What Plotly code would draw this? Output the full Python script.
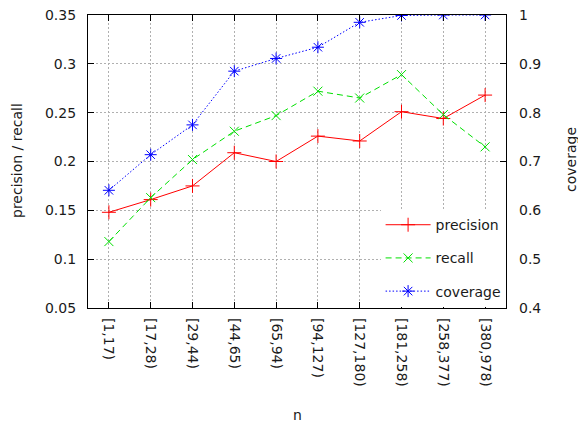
import plotly.graph_objects as go

categories = ["[1,17)", "[17,28)", "[29,44)", "[44,65)", "[65,94)",
              "[94,127)", "[127,180)", "[181,258)", "[258,377)", "[380,978)"]
precision = [0.148, 0.161, 0.175, 0.209, 0.200, 0.226, 0.221, 0.251, 0.244, 0.268]
recall = [0.118, 0.163, 0.202, 0.231, 0.247, 0.272, 0.265, 0.289, 0.248, 0.215]
coverage = [0.641, 0.714, 0.775, 0.885, 0.911, 0.934, 0.985, 0.999, 1.0, 1.0]

left_ticks = [0.05, 0.1, 0.15, 0.2, 0.25, 0.3, 0.35]
left_tick_labels = ["0.05", "0.1", "0.15", "0.2", "0.25", "0.3", "0.35"]
right_ticks = [0.4, 0.5, 0.6, 0.7, 0.8, 0.9, 1.0]
right_tick_labels = ["0.4", "0.5", "0.6", "0.7", "0.8", "0.9", "1"]

FONT = "DejaVu Sans"
TXT = "#1a1a1a"
FS = 14

fig = go.Figure()
fig.add_trace(go.Scatter(
    x=categories, y=precision, name="precision", legendgroup="p",
    mode="lines+markers",
    line=dict(color="#ff0000", width=1),
    marker=dict(symbol="cross-thin", size=10, line=dict(color="#ff0000", width=1)),
))
fig.add_trace(go.Scatter(
    x=categories, y=recall, name="recall", legendgroup="r",
    mode="lines+markers",
    line=dict(color="#00e000", width=1, dash="6px,4px"),
    marker=dict(symbol="x-thin", size=9, line=dict(color="#00e000", width=1)),
))
fig.add_trace(go.Scatter(
    x=categories, y=coverage, name="coverage", legendgroup="c",
    mode="lines+markers", yaxis="y2",
    line=dict(color="#0000ff", width=1, dash="1.5px,2px"),
    marker=dict(symbol="asterisk", size=10, line=dict(color="#0000ff", width=1)),
))

# plot area in pixels: left 88, right 506, top 15, bottom 308
def px_x(px):
    return (px - 88) / 418.0

def px_y(py):
    return (308 - py) / 293.0

title_font = dict(family=FONT, size=FS, color=TXT)
fig.add_annotation(text="precision / recall", xref="paper", yref="paper",
                   x=px_x(17), y=px_y(161), textangle=-90, showarrow=False,
                   xanchor="center", yanchor="middle", font=title_font)
fig.add_annotation(text="coverage", xref="paper", yref="paper",
                   x=px_x(571), y=px_y(160), textangle=-90, showarrow=False,
                   xanchor="center", yanchor="middle", font=title_font)
fig.add_annotation(text="n", xref="paper", yref="paper",
                   x=px_x(297), y=px_y(415), showarrow=False,
                   xanchor="center", yanchor="middle", font=title_font)

fig.update_layout(
    width=578, height=424,
    margin=dict(l=88, r=72, t=15, b=116, autoexpand=False),
    paper_bgcolor="white", plot_bgcolor="white",
    font=dict(family=FONT, size=FS, color=TXT),
    showlegend=True,
    legend=dict(
        x=0.999, xanchor="right", y=0.003, yanchor="bottom",
        bgcolor="white", borderwidth=0,
        font=dict(family=FONT, size=FS, color=TXT),
        tracegroupgap=12,
        traceorder="grouped",
        itemwidth=45,
    ),
    xaxis=dict(
        type="category", range=[-0.5, 9.5],
        categoryorder="array", categoryarray=categories,
        tickangle=90, automargin=False,
        ticks="inside", ticklen=6, tickcolor="black",
        showline=True, linecolor="black", linewidth=1.3, mirror="ticks",
        showgrid=True, gridcolor="#b0b0b0", griddash="2px,2px", gridwidth=1,
        ticklabelstandoff=6,
        zeroline=False,
    ),
    yaxis=dict(
        range=[0.05, 0.35], tickvals=left_ticks, ticktext=left_tick_labels,
        automargin=False,
        ticks="inside", ticklen=6, tickcolor="black",
        showline=True, linecolor="black", linewidth=1.3, mirror=True,
        showgrid=True, gridcolor="#b0b0b0", griddash="2px,2px", gridwidth=1,
        ticklabelstandoff=8,
        zeroline=False,
    ),
    yaxis2=dict(
        range=[0.4, 1.0], tickvals=right_ticks, ticktext=right_tick_labels,
        overlaying="y", side="right", automargin=False,
        ticks="inside", ticklen=6, tickcolor="black",
        showline=False, showgrid=False, zeroline=False,
        ticklabelstandoff=12,
    ),
)

fig.write_html("out.html", config={"displayModeBar": False},
               post_script="document.body.style.margin='0px';")
